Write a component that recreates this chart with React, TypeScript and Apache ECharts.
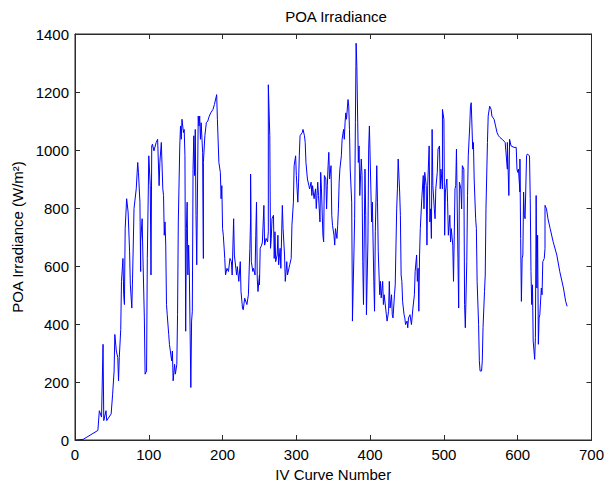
import React, { useEffect, useRef } from "react";
import * as echarts from "echarts";

const chartTitle = "POA Irradiance";
const xAxisName = "IV Curve Number";
const yAxisName = "POA Irradiance (W/m²)";
const xTicks = [0, 100, 200, 300, 400, 500, 600, 700];
const yTicks = [0, 200, 400, 600, 800, 1000, 1200, 1400];

const curveNumber = [
  1, 11, 31, 33, 36, 38, 39, 42, 43, 49, 51, 53, 54, 56, 58, 59, 60, 62, 63, 65,
  66, 67, 68, 70, 72, 74, 75, 77, 78, 80, 83, 85, 86, 88, 89, 89, 91, 92, 94, 95,
  97, 98, 100, 102, 103, 104, 105, 107, 110, 112, 114, 115, 117, 119, 120, 121, 122, 123, 124, 125,
  127, 128, 131, 132, 133, 135, 136, 138, 139, 140, 142, 143, 144, 145, 147, 148, 149, 150, 151, 152,
  153, 154, 155, 157, 158, 159, 160, 161, 162, 163, 164, 165, 167, 168, 169, 170, 171, 173, 174, 174,
  176, 178, 180, 182, 184, 187, 189, 191, 192, 193, 195, 197, 198, 199, 200, 201, 203, 204, 206, 208,
  210, 212, 213, 215, 216, 218, 219, 220, 222, 224, 225, 227, 228, 230, 233, 235, 237, 238, 238, 239,
  241, 242, 244, 245, 246, 247, 248, 250, 250, 251, 253, 254, 256, 257, 259, 261, 262, 262, 264, 265,
  266, 267, 269, 270, 271, 272, 274, 275, 276, 278, 279, 281, 282, 284, 285, 287, 288, 291, 293, 294,
  296, 297, 299, 300, 302, 303, 304, 305, 308, 309, 311, 312, 313, 315, 317, 318, 320, 321, 322, 324,
  326, 327, 329, 330, 332, 333, 334, 336, 337, 338, 340, 341, 342, 343, 344, 345, 347, 348, 349, 351,
  352, 353, 355, 356, 357, 358, 359, 361, 362, 364, 365, 366, 367, 368, 370, 371, 372, 373, 375, 376,
  376, 378, 379, 380, 381, 382, 384, 385, 386, 388, 389, 390, 391, 393, 394, 395, 397, 398, 399, 401,
  402, 403, 405, 406, 407, 409, 410, 411, 413, 414, 415, 417, 418, 419, 421, 422, 423, 425, 426, 427,
  429, 430, 431, 433, 434, 436, 437, 438, 440, 441, 442, 443, 444, 446, 447, 448, 450, 451, 452, 454,
  456, 458, 460, 461, 463, 464, 465, 466, 467, 468, 470, 472, 473, 474, 476, 477, 478, 480, 481, 482,
  483, 484, 485, 487, 488, 489, 491, 492, 494, 495, 496, 498, 498, 500, 501, 502, 504, 505, 506, 508,
  509, 510, 512, 513, 515, 516, 517, 519, 520, 521, 523, 524, 525, 527, 528, 529, 531, 532, 533, 535,
  536, 537, 539, 540, 541, 543, 544, 545, 547, 548, 549, 551, 552, 553, 555, 556, 557, 559, 560, 562,
  564, 565, 568, 570, 572, 574, 576, 579, 583, 586, 586, 588, 589, 591, 595, 598, 599, 600, 601, 603,
  603, 604, 605, 606, 607, 608, 609, 610, 612, 613, 616, 617, 618, 619, 620, 621, 623, 624, 625, 626,
  627, 628, 629, 630, 632, 633, 634, 636, 637, 637, 639, 641, 644, 648, 653, 657, 662, 665, 667,
];

const irradiance = [
  0, 2, 33, 101, 79, 330, 67, 101, 67, 90, 158, 238, 364, 307, 284, 204, 284, 381, 547, 626,
  501, 467, 729, 832, 786, 649, 535, 455, 558, 798, 866, 957, 923, 820, 581, 684, 763, 638, 421, 227,
  238, 626, 980, 877, 569, 1014, 1020, 997, 1026, 1037, 877, 957, 1026, 866, 843, 706, 752, 672, 467, 432,
  364, 330, 273, 307, 204, 261, 227, 261, 432, 752, 1014, 1083, 1037, 1106, 1060, 1071, 980, 375, 729, 820,
  569, 672, 569, 181, 410, 444, 934, 1049, 912, 1071, 775, 604, 1117, 1083, 1117, 1037, 1094, 991, 626, 957,
  1049, 1094, 1100, 1117, 1128, 1140, 1157, 1180, 1191, 1106, 957, 923, 832, 877, 729, 706, 626, 569, 592, 581,
  626, 615, 569, 763, 638, 592, 569, 598, 547, 615, 512, 455, 449, 489, 467, 501, 661, 763, 917, 615,
  581, 592, 569, 706, 820, 558, 512, 569, 535, 661, 672, 683, 809, 672, 695, 683, 718, 1225, 1049, 661,
  695, 763, 775, 626, 718, 615, 638, 706, 604, 661, 592, 809, 729, 638, 547, 615, 569, 604, 626, 740,
  820, 946, 980, 912, 820, 889, 980, 1049, 1060, 1071, 1049, 1026, 957, 900, 877, 866, 889, 843, 877, 832,
  866, 798, 889, 843, 752, 923, 866, 706, 683, 912, 900, 797, 877, 946, 992, 900, 946, 775, 740, 706,
  672, 729, 695, 740, 797, 889, 934, 980, 1037, 1071, 1037, 1094, 1128, 1106, 1174, 1151, 1071, 934, 820, 455,
  410, 638, 763, 1094, 1368, 1288, 957, 1014, 843, 969, 912, 615, 467, 934, 775, 432, 683, 1003, 1083, 866,
  752, 820, 547, 444, 718, 946, 820, 649, 501, 547, 490, 547, 467, 501, 455, 432, 410, 444, 547, 455,
  501, 432, 421, 501, 535, 797, 866, 969, 855, 775, 569, 547, 478, 432, 421, 398, 410, 387, 421, 432,
  398, 455, 501, 581, 638, 547, 592, 444, 638, 729, 832, 912, 797, 923, 877, 672, 877, 1014, 752, 797,
  695, 1071, 877, 797, 763, 866, 923, 1003, 1014, 866, 934, 866, 1140, 1106, 706, 855, 900, 820, 706, 775,
  683, 729, 672, 547, 866, 877, 1003, 626, 455, 889, 866, 797, 946, 934, 467, 387, 615, 843, 980, 1083,
  1151, 1163, 1003, 1026, 900, 763, 729, 547, 398, 273, 238, 238, 273, 387, 512, 569, 797, 1026, 1117, 1151,
  1140, 1117, 1106, 1083, 1060, 1049, 1043, 1037, 1026, 934, 1026, 843, 1037, 1014, 1009, 1009, 934, 923, 934, 855,
  969, 695, 478, 626, 638, 855, 775, 763, 980, 986, 980, 832, 581, 467, 535, 341, 278, 353, 843, 524,
  706, 330, 421, 432, 524, 501, 615, 626, 661, 809, 797, 763, 729, 684, 638, 581, 524, 478, 461,
];

const FONT = '"Liberation Sans", Arial, Helvetica, sans-serif';
const AXIS_COLOR = "#2b2b2b";

export default function App() {
  const ref = useRef<HTMLDivElement>(null);

  useEffect(() => {
    if (!ref.current) return;
    const chart = echarts.init(ref.current, null, { renderer: "svg" });
    const data = curveNumber.map((x, i) => [x, irradiance[i]]);

    const commonX = {
      type: "value" as const,
      min: xTicks[0],
      max: xTicks[xTicks.length - 1],
      interval: xTicks[1] - xTicks[0],
      splitLine: { show: false },
      axisLine: { show: true, onZero: false, lineStyle: { color: AXIS_COLOR, width: 1 } },
      axisTick: { show: true, inside: true, length: 5, lineStyle: { color: AXIS_COLOR } },
    };
    const commonY = {
      type: "value" as const,
      min: yTicks[0],
      max: yTicks[yTicks.length - 1],
      interval: yTicks[1] - yTicks[0],
      splitLine: { show: false },
      axisLine: { show: true, onZero: false, lineStyle: { color: AXIS_COLOR, width: 1 } },
      axisTick: { show: true, inside: true, length: 5, lineStyle: { color: AXIS_COLOR } },
    };

    chart.setOption({
      animation: false,
      backgroundColor: "#ffffff",
      grid: {
        left: 75,
        right: 10,
        top: 34,
        bottom: 44,
        containLabel: false,
        show: true,
        borderColor: AXIS_COLOR,
        borderWidth: 1,
        backgroundColor: "transparent",
      },
      graphic: [
        {
          type: "text",
          x: 336,
          y: 16.5,
          style: {
            text: chartTitle,
            fontSize: 15,
            fontFamily: FONT,
            fill: "#000",
            align: "center",
            verticalAlign: "middle",
          },
        },
      ],
      xAxis: [
        {
          ...commonX,
          position: "bottom",
          name: xAxisName,
          nameLocation: "middle",
          nameGap: 27,
          nameTextStyle: { fontSize: 15, fontFamily: FONT, color: "#000" },
          axisLabel: {
            show: true,
            margin: 7,
            fontSize: 15,
            fontFamily: FONT,
            color: "#000",
            formatter: (v: number) => String(v),
          },
        },
        {
          ...commonX,
          position: "top",
          axisLabel: { show: false },
        },
      ],
      yAxis: [
        {
          ...commonY,
          position: "left",
          name: yAxisName,
          nameLocation: "middle",
          nameGap: 49,
          nameTextStyle: { fontSize: 15, fontFamily: FONT, color: "#000" },
          axisLabel: {
            show: true,
            margin: 6,
            fontSize: 15,
            fontFamily: FONT,
            color: "#000",
            formatter: (v: number) => String(v),
          },
        },
        {
          ...commonY,
          position: "right",
          axisLabel: { show: false },
        },
      ],
      series: [
        {
          type: "line",
          xAxisIndex: 0,
          yAxisIndex: 0,
          data,
          showSymbol: false,
          symbol: "none",
          lineStyle: { color: "#0000ff", width: 1 },
          itemStyle: { color: "#0000ff" },
        },
        {
          type: "line",
          xAxisIndex: 1,
          yAxisIndex: 1,
          data: [],
          showSymbol: false,
          symbol: "none",
          silent: true,
        },
      ],
    });

    return () => chart.dispose();
  }, []);

  return (
    <div
      ref={ref}
      style={{ position: "absolute", left: 0, top: 0, width: 607, height: 487, background: "#fff" }}
    />
  );
}
